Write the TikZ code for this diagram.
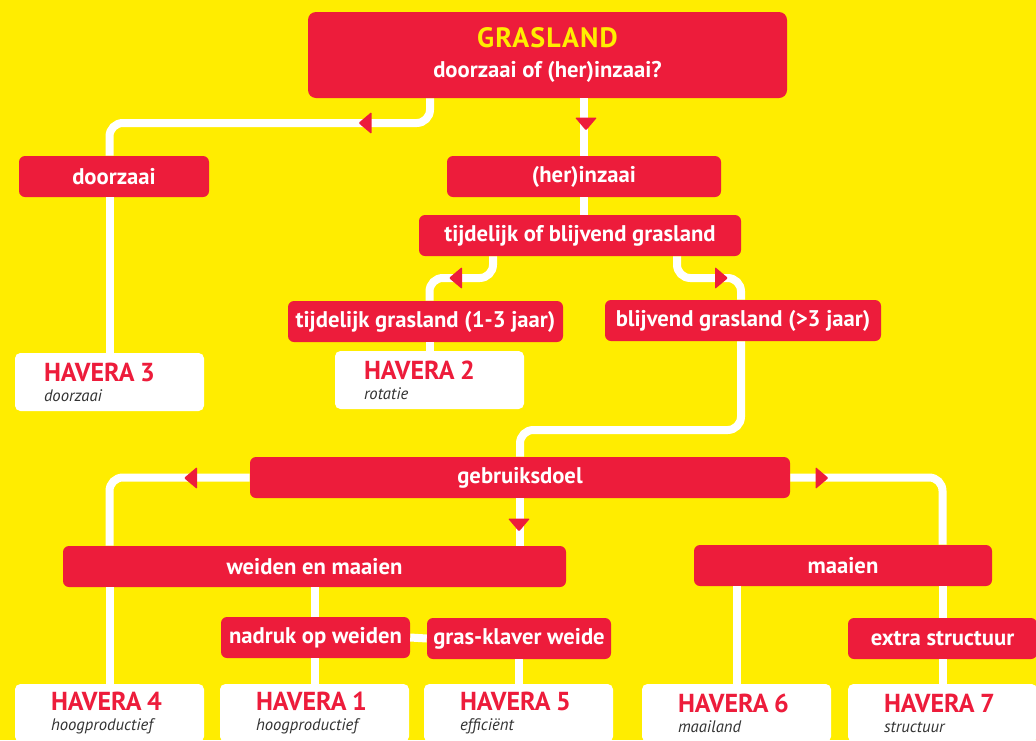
\documentclass[tikz,border=0pt]{standalone}
\usepackage{fontspec}
\setmainfont{PT Sans}
\definecolor{hvred}{RGB}{237,28,59}
\definecolor{hvyellow}{RGB}{255,237,0}
\definecolor{hvgray}{RGB}{51,51,51}
\newcommand\boxfont{\bfseries\fontsize{17}{20}\selectfont}
\newcommand\titlefont{\bfseries\fontsize{21}{23}\selectfont\addfontfeature{LetterSpace=4}}
\newcommand\havfont{\upshape\bfseries\fontsize{19.5}{15}\selectfont}
\newcommand\subfont{\itshape\fontsize{12.5}{15}\selectfont}
\tikzstyle{question} = [rectangle, rounded corners=6pt, minimum width=359.25pt, minimum height=64.5pt, text centered, align=center, fill=hvred, text=white, inner sep=0pt]
\tikzstyle{choice} = [rectangle, rounded corners=4.5pt, minimum height=30.75pt, text centered, fill=hvred, text=white, font=\boxfont, inner sep=0pt]
\tikzstyle{variety} = [rectangle, rounded corners=4pt, minimum width=141.75pt, minimum height=43.5pt, fill=white, text=hvgray, font=\subfont, align=left, inner ysep=0pt]
\tikzstyle{topvariety} = [variety, inner xsep=21.75pt, text width=98.25pt]
\tikzstyle{lowvariety} = [variety, inner xsep=27pt, text width=87.75pt]
\tikzstyle{link} = [draw=white, line width=6pt, rounded corners=10pt]
\tikzset{pointer/.pic={\fill[hvred, rounded corners=0.8pt] (6.5,0) -- (-6.5,11) -- (-6.5,-11) -- cycle;}}

\begin{document}
\begin{tikzpicture}[x=0.75pt, y=-0.75pt]

\useasboundingbox (0,0) rectangle (1036,740);
\clip (0,0) rectangle (1036,740);
\fill[hvyellow] (0,0) rectangle (1036,740);

\node (0) [question] at (547.5,55) {{\titlefont\textcolor{hvyellow}{GRASLAND}}\\[9pt]{\boxfont doorzaai of (her)inzaai?}};
\node (1) [choice, minimum width=142.5pt] at (114,176.5) {doorzaai};
\node (2) [choice, minimum width=205.5pt] at (584,176.5) {(her)inzaai};
\node (3) [choice, minimum width=241.5pt] at (580,235.5) {tijdelijk of blijvend grasland};
\node (4) [choice, minimum width=206.25pt] at (425.5,321.5) {tijdelijk grasland (1-3 jaar)};
\node (5) [choice, minimum width=207pt] at (743,320.5) {blijvend grasland (>3 jaar)};
\node (6) [topvariety] at (109.5,382) {\textcolor{hvred}{\havfont HAVERA 3}\\doorzaai};
\node (7) [topvariety] at (429.5,380) {\textcolor{hvred}{\havfont HAVERA 2}\\rotatie};
\node (8) [choice, minimum width=405pt] at (520,477.5) {gebruiksdoel};
\node (9) [choice, minimum width=377.25pt] at (314.5,566.5) {weiden en maaien};
\node (10) [choice, minimum width=223.5pt] at (843,565.5) {maaien};
\node (11) [choice, minimum width=141.75pt] at (315.5,637.5) {nadruk op weiden};
\node (12) [choice, minimum width=138pt] at (519,638.5) {gras-klaver weide};
\node (13) [choice, minimum width=141.75pt] at (942.5,638.5) {extra structuur};
\node (14) [lowvariety] at (109.5,713) {\textcolor{hvred}{\havfont HAVERA 4}\\hoogproductief};
\node (15) [lowvariety] at (314.5,713) {\textcolor{hvred}{\havfont HAVERA 1}\\hoogproductief};
\node (16) [lowvariety] at (518.5,713) {\textcolor{hvred}{\havfont HAVERA 5}\\efficiënt};
\node (17) [lowvariety] at (736.5,713) {\textcolor{hvred}{\havfont HAVERA 6}\\maailand};
\node (18) [lowvariety] at (942.5,713) {\textcolor{hvred}{\havfont HAVERA 7}\\structuur};

% bends of the white lines
\coordinate (b1) at (430,123);
\coordinate (b2) at (493,278);
\coordinate (b3) at (677,278);
\coordinate (b4) at (741,430);

\draw [link] (0.south -| b1) -- (b1) -| (1.north -| 6.north);
\draw [link] (1.south -| 6.north) -- (6.north);
\draw [link] (0.south -| 2.north) -- (2.north);
\draw [link] (2.south) -- (2.south |- 3.north);
\draw [link] (3.south -| b2) -- (b2) -| (4.north -| 7.north);
\draw [link] (4.south -| 7.north) -- (7.north);
\draw [link] (3.south -| b3) -- (b3) -| (5.north -| b4);
\draw [link] (5.south -| b4) -- (b4) -| (8.north);
\draw [link] (8.west) -| (9.north -| 14.north);
\draw [link] (9.south -| 14.north) -- (14.north);
\draw [link] (8.south) -- (8.south |- 9.north);
\draw [link] (9.south -| 15.north) -- (11.north -| 15.north);
\draw [link] (11.south -| 15.north) -- (15.north);
\draw [link] (11.east) -- (12.west);
\draw [link] (12.south -| 16.north) -- (16.north);
\draw [link] (8.east) -| (10.north -| 13.north);
\draw [link] (10.south -| 13.north) -- (13.north);
\draw [link] (13.south) -- (18.north);
\draw [link] (10.south -| 17.north) -- (17.north);

% red pointers on the lines
\pic [rotate=180] at (365,123) {pointer};
\pic [rotate=-90] at (586,124) {pointer};
\pic [rotate=180] at (455.5,278) {pointer};
\pic at (721.5,278) {pointer};
\pic [rotate=180] at (190.5,478) {pointer};
\pic [rotate=-90] at (519,525) {pointer};
\pic at (822,478) {pointer};

\end{tikzpicture}
\end{document}
